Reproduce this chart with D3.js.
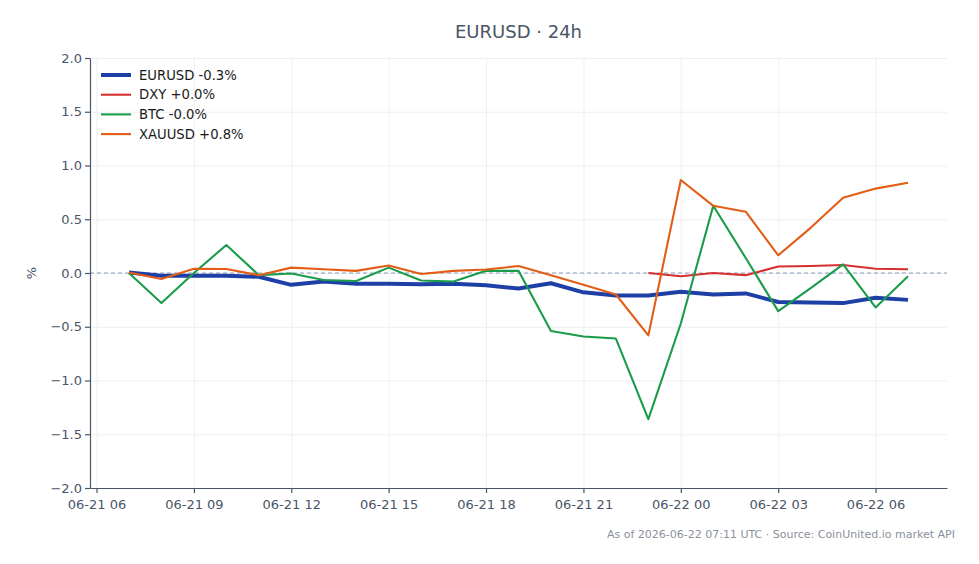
<!DOCTYPE html>
<html>
<head>
<meta charset="utf-8">
<script src="https://cdn.jsdelivr.net/npm/d3@7"></script>
<style>
  body { margin: 0; background: #fff; font-family: "DejaVu Sans", sans-serif; }
  .grid line { stroke: #e8ebf0; stroke-width: 0.8; }
  .grid .domain { display: none; }
  .axis text { fill: #4a5568; font-size: 13px; font-family: "DejaVu Sans", sans-serif; }
  .axis line, .axis path { stroke: #4a5568; stroke-width: 1.2; }
</style>
</head>
<body>
<div id="chart"></div>
<script>
// hourly points, 06-21 07:00 -> 06-22 07:00 (UTC)
const hours = d3.range(25).map((i) => new Date(Date.UTC(2026, 5, 21, 7 + i)));

const eurusd = [0.005, -0.025, -0.025, -0.025, -0.035, -0.11, -0.08, -0.10, -0.10, -0.105,
  -0.10, -0.115, -0.145, -0.095, -0.18, -0.21, -0.21, -0.175, -0.20, -0.19,
  -0.27, -0.275, -0.28, -0.23, -0.25];
// DXY only has data from 06-21 23:00
const dxy = [null, null, null, null, null, null, null, null, null, null,
  null, null, null, null, null, null, 0.0, -0.03, 0.0, -0.02,
  0.06, 0.065, 0.075, 0.04, 0.035];
const btc = [0.0, -0.28, 0.0, 0.26, -0.02, -0.005, -0.065, -0.075, 0.05, -0.07,
  -0.08, 0.02, 0.02, -0.54, -0.59, -0.61, -1.36, -0.47, 0.625, 0.14,
  -0.355, -0.14, 0.08, -0.32, -0.03];
const xauusd = [0.005, -0.055, 0.04, 0.037, -0.02, 0.05, 0.035, 0.02, 0.07, -0.01,
  0.02, 0.032, 0.065, -0.02, -0.11, -0.2, -0.58, 0.865, 0.625, 0.57,
  0.165, 0.42, 0.70, 0.785, 0.84];

const seriesNames = ['EURUSD -0.3%', 'DXY +0.0%', 'BTC -0.0%', 'XAUUSD +0.8%'];
const seriesValues = [eurusd, dxy, btc, xauusd];
const seriesColors = ['#1e3fa6', '#d62f2f', '#1a9c4a', '#e35d17'];
const seriesWidths = [4, 2.1, 2.1, 2.1];

const yTicks = [-2, -1.5, -1, -0.5, 0, 0.5, 1, 1.5, 2];
const xTicks = d3.range(9).map((i) => new Date(Date.UTC(2026, 5, 21, 6 + i * 3)));

const w = 979;
const h = 564;
const margin = { top: 58, right: 32, bottom: 76, left: 90 };
const graphWidth = w - margin.left - margin.right;
const graphHeight = h - margin.top - margin.bottom;

const svg = d3.select('#chart').append('svg').attr('width', w).attr('height', h);
const graph = svg.append('g').attr('transform', `translate(${margin.left}, ${margin.top})`);

// SCALES ----------------------
const pad = 1.2 * 3600 * 1000; // 5% of 24h
const xScale = d3.scaleUtc()
  .domain([+hours[0] - pad, +hours[hours.length - 1] + pad])
  .range([0, graphWidth]);
const yScale = d3.scaleLinear().domain([-2, 2]).range([graphHeight, 0]);

// GRID ------------------------
graph.append('g').attr('class', 'grid')
  .call(d3.axisLeft(yScale).tickValues(yTicks).tickSize(-graphWidth).tickFormat(''));
graph.append('g').attr('class', 'grid')
  .attr('transform', `translate(0, ${graphHeight})`)
  .call(d3.axisBottom(xScale).tickValues(xTicks).tickSize(-graphHeight).tickFormat(''));

// zero line
graph.append('line')
  .attr('x1', 0).attr('x2', graphWidth)
  .attr('y1', yScale(0)).attr('y2', yScale(0))
  .attr('stroke', '#8a9bb8').attr('stroke-width', 1.1)
  .attr('stroke-dasharray', '4,3');

// LINES -----------------------
const line = d3.line()
  .defined((d) => d.v !== null)
  .x((d) => xScale(d.t))
  .y((d) => yScale(d.v));

seriesValues.forEach((vals, i) => {
  graph.append('path')
    .datum(vals.map((v, j) => ({ t: hours[j], v })))
    .attr('fill', 'none')
    .attr('stroke', seriesColors[i])
    .attr('stroke-width', seriesWidths[i])
    .attr('stroke-linejoin', 'round')
    .attr('d', line);
});

// AXES ------------------------
const fmtTime = d3.utcFormat('%m-%d %H');
graph.append('g').attr('class', 'axis')
  .attr('transform', `translate(0, ${graphHeight})`)
  .call(d3.axisBottom(xScale).tickValues(xTicks).tickFormat(fmtTime).tickSize(5).tickSizeOuter(0))
  .selectAll('text').attr('dy', '1em');
graph.append('g').attr('class', 'axis')
  .call(d3.axisLeft(yScale).tickValues(yTicks).tickFormat(d3.format('.1f')).tickSize(5).tickSizeOuter(0));

// LEGEND ----------------------
const legend = svg.append('g').attr('transform', 'translate(101, 75)');
seriesNames.forEach((name, i) => {
  const row = legend.append('g').attr('transform', `translate(0, ${i * 19.7})`);
  row.append('line').attr('x1', 0).attr('x2', 30)
    .attr('stroke', seriesColors[i]).attr('stroke-width', seriesWidths[i]);
  row.append('text').attr('x', 38).attr('dy', '0.35em')
    .style('font-size', '13.2px').attr('fill', '#1a1a1a').text(name);
});

// LABELS ----------------------
svg.append('text')
  .attr('x', margin.left + graphWidth / 2).attr('y', 38)
  .attr('text-anchor', 'middle').style('font-size', '18px').attr('fill', '#4a5568')
  .text('EURUSD · 24h');

svg.append('text')
  .attr('transform', `translate(36, ${margin.top + yScale(0)}) rotate(-90)`)
  .attr('text-anchor', 'middle').style('font-size', '13px').attr('fill', '#4a5568')
  .text('%');

svg.append('text')
  .attr('x', 955).attr('y', 538)
  .attr('text-anchor', 'end').style('font-size', '11px').attr('fill', '#8a919c')
  .text('As of 2026-06-22 07:11 UTC · Source: CoinUnited.io market API');
</script>
</body>
</html>
